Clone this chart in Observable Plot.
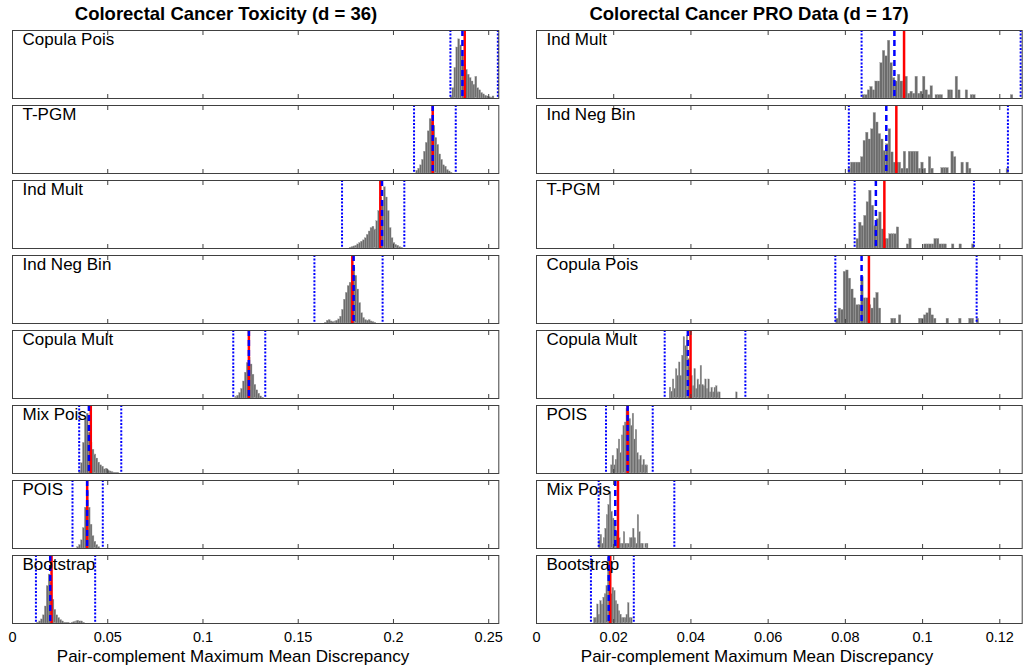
<!DOCTYPE html>
<html><head><meta charset="utf-8">
<script src="https://cdn.jsdelivr.net/npm/d3@7"></script>
<script src="https://cdn.jsdelivr.net/npm/@observablehq/plot@0.6"></script>
<style>
body{margin:0;background:#fff;font-family:"Liberation Sans",Arial,sans-serif;}
#wrap{position:relative;width:1023px;height:670px;overflow:hidden;background:#fff;}
.t{position:absolute;white-space:nowrap;transform:translateX(-50%);line-height:1;color:#000;}
.title{font-weight:bold;font-size:18.5px;top:5px;}
.xl{font-size:17px;top:648px;}
#left,#right{position:absolute;top:0;}
#left{left:0;} #right{left:524px;}
</style></head><body>
<div id="wrap">
  <div id="left"></div>
  <div id="right"></div>
  <div class="t title" style="left:226px">Colorectal Cancer Toxicity (d = 36)</div>
  <div class="t title" style="left:749px">Colorectal Cancer PRO Data (d = 17)</div>
  <div class="t xl" style="left:233px">Pair-complement Maximum Mean Discrepancy</div>
  <div class="t xl" style="left:757px">Pair-complement Maximum Mean Discrepancy</div>
</div>
<script>
// ---------- Left: Colorectal Cancer Toxicity ----------
const toxNames = ["Copula Pois","T-PGM","Ind Mult","Ind Neg Bin","Copula Mult","Mix Pois","POIS","Bootstrap"];
const toxStart = [0.230, 0.212, 0.177, 0.164, 0.117, 0.035, 0.034, 0.013];
const toxWidth = [0.001, 0.001, 0.001, 0.001, 0.001, 0.001, 0.001, 0.001];
const toxCopulaPois = [0.02,0.15,0.45,0.75,0.87,0.78,0.62,0.5,0.42,0.35,0.3,0.25,0.2,0.32,0.15,0.12,0.08,0.06,0.04,0.03,0.02,0.01,0.03];
const toxTPGM = [0.04,0.07,0.12,0.2,0.32,0.45,0.62,0.8,0.76,0.7,0.52,0.42,0.28,0.2,0.12,0.1,0.05,0.03,0.01];
const toxIndMult = [0.01,0.02,0.03,0.04,0.06,0.08,0.1,0.12,0.15,0.2,0.25,0.3,0.32,0.28,0.4,0.55,0.75,0.7,0.9,0.75,0.55,0.3,0.15,0.08,0.05,0.04,0.02,0.01];
const toxIndNegBin = [0.01,0.04,0.05,0.03,0.02,0.03,0.04,0.06,0.1,0.2,0.35,0.45,0.55,0.6,0.78,0.82,0.7,0.5,0.3,0.15,0.08,0.05,0.04,0.05,0.03,0.02,0.01];
const toxCopulaMult = [0.02,0.04,0.08,0.14,0.25,0.38,0.52,0.6,0.5,0.35,0.2,0.12,0.07,0.03,0.01];
const toxMixPois = [0.02,0.15,0.45,0.8,0.88,0.6,0.45,0.35,0.28,0.22,0.16,0.12,0.1,0.06,0.07,0.04,0.03,0.02,0.01,0.01,0.01];
const toxPOIS = [0.02,0.05,0.12,0.3,0.6,0.83,0.6,0.35,0.18,0.1,0.05,0.02];
const toxBootstrap = [0.01,0.03,0.06,0.12,0.25,0.55,0.72,0.6,0.35,0.2,0.12,0.08,0.05,0.03,0.01,0.01,0.01,0,0.01,0.02,0.03,0.04,0.03,0.03,0.01];
const toxLower    = [0.2299,0.2108,0.1730,0.1585,0.1159,0.0350,0.0315,0.0123];
const toxMedian   = [0.2362,0.2206,0.1940,0.1791,0.1241,0.0401,0.0392,0.0198];
const toxObserved = [0.2374,0.2206,0.1931,0.1784,0.1241,0.0411,0.0392,0.0205];
const toxUpper    = [0.2548,0.2327,0.2057,0.1943,0.1327,0.0571,0.0474,0.0434];
const toxTicks = [0, 0.05, 0.1, 0.15, 0.2, 0.25];
const toxMax = 0.2553;

// ---------- Right: Colorectal Cancer PRO Data ----------
const proNames = ["Ind Mult","Ind Neg Bin","T-PGM","Copula Pois","Copula Mult","POIS","Mix Pois","Bootstrap"];
const proStart = [0.0845, 0.0808, 0.0829, 0.0776, 0.0345, 0.0193, 0.0162, 0.0149];
const proWidth = [0.00065, 0.00065, 0.00065, 0.00065, 0.0004, 0.0004, 0.0004, 0.0004];
const proIndMult = [0.05,0.05,0.12,0.17,0.12,0.25,0.25,0.52,0.7,0.62,0.85,0.52,0.3,0.25,0.35,0.25,0.25,0.32,0.07,0.1,0.07,0.32,0.07,0.1,0.32,0.12,0.05,0.18,0,0.05,0.05,0.05,0,0,0.12,0.12,0,0.32,0.12,0,0,0.12,0,0.05,0.05,0,0,0,0,0,0,0,0,0,0,0,0,0,0,0.05];
const proIndNegBin = [0.07,0.16,0.16,0.16,0.16,0.24,0.48,0.6,0.5,0.65,0.89,0.75,0.58,0.5,0.33,0.43,0.65,0.31,0.16,0.16,0.16,0.07,0.32,0.07,0.32,0.32,0.32,0.32,0.07,0.16,0.07,0,0.24,0.07,0,0,0,0.08,0.08,0.08,0,0.32,0.24,0,0,0.16,0,0.16,0.07,0,0,0,0,0,0,0,0,0,0,0,0,0,0,0.07];
const proTPGM = [0.14,0.38,0.33,0.48,0.68,0.85,0.63,0.33,0.43,0.53,0.28,0.14,0.14,0.21,0.21,0.21,0.31,0,0,0,0.06,0.14,0,0,0,0,0,0.06,0.06,0.06,0.06,0.14,0.14,0.06,0.06,0.06,0,0,0.06,0,0,0.06,0,0,0,0,0.06];
const proCopulaPois = [0.07,0.22,0.2,0.76,0.78,0.66,0.5,0.37,0.27,0.27,0.68,0.37,0.37,0.27,0.22,0.37,0.45,0.22,0,0,0,0,0.07,0.07,0,0.12,0,0,0,0,0,0,0,0.07,0.07,0.12,0.15,0.22,0.12,0.07,0,0,0,0,0.07,0,0,0,0,0.07,0,0,0,0.07,0.07,0,0.07];
const proCopulaMult = [0.16,0.1,0.28,0.14,0.43,0.33,0.53,0.33,0.63,0.9,0.77,0.92,0.58,0.45,0.33,0.18,0.43,0.14,0.28,0.2,0.48,0.2,0.18,0.28,0.14,0.28,0.09,0.16,0.09,0.16,0.18,0.09,0.09,0,0,0,0,0,0,0,0,0,0,0.09];
const proPOIS = [0.12,0.26,0.12,0.2,0.36,0.5,0.3,0.56,0.7,0.75,0.95,0.9,0.8,0.7,0.88,0.5,0.64,0.3,0.2,0.26,0.12,0.2,0.12,0.12];
const proMixPois = [0.12,0.2,0.07,0.15,0.29,0.49,0.64,0.83,0.54,0.44,0.34,0.25,0.2,0.15,0.07,0.07,0.24,0.07,0.07,0.07,0.15,0.15,0.29,0.15,0.07,0.49,0.24,0.07,0.07,0,0.07,0.07];
const proBootstrap = [0.08,0.08,0.28,0.13,0.33,0.28,0.38,0.43,0.55,0.96,0.6,0.43,0.52,0.48,0.33,0.28,0.18,0.13,0.08,0.08,0.08,0.13,0.3,0.08,0.08];
const proLower    = [0.0842,0.0809,0.0824,0.0774,0.0332,0.0180,0.0161,0.0141];
const proMedian   = [0.0927,0.0906,0.0879,0.0842,0.0392,0.0236,0.0204,0.0187];
const proObserved = [0.0952,0.0932,0.0901,0.0861,0.0399,0.0236,0.0211,0.0191];
const proUpper    = [0.1254,0.1221,0.1133,0.1140,0.0541,0.0301,0.0357,0.0252];
const proTicks = [0, 0.02, 0.04, 0.06, 0.08, 0.1, 0.12];
const proMax = 0.1258;

function drawColumn(cfg) {
  const bins = cfg.names.flatMap((name, k) => cfg.counts[k].map((h, i) => ({
    panel: name, x1: cfg.starts[k] + i * cfg.widths[k], x2: cfg.starts[k] + (i + 1) * cfg.widths[k], h
  })));
  const stats = cfg.names.map((name, k) => ({
    panel: name, lower: cfg.lower[k], median: cfg.median[k], observed: cfg.observed[k], upper: cfg.upper[k]
  }));
  const axisColor = "#404040";
  return Plot.plot({
    width: cfg.width, height: 648,
    marginTop: 30, marginBottom: 25, marginLeft: cfg.marginLeft, marginRight: cfg.marginRight,
    style: {fontFamily: "'Liberation Sans', Arial, sans-serif", fontSize: "14.5px", color: "#000", background: "transparent", overflow: "visible"},
    x: {domain: [0, cfg.xmax]},
    y: {domain: [0, 1], axis: null},
    fy: {domain: cfg.names, axis: null, paddingInner: 7 / 75, paddingOuter: 0},
    marks: [
      Plot.rect(bins, {x1: "x1", x2: "x2", y1: 0, y2: "h", fy: "panel", fill: "#6c6c6c", stroke: "#a0a0a0", strokeWidth: 0.35}),
      Plot.ruleX(stats, {x: "observed", fy: "panel", stroke: "#ff0000", strokeWidth: 2.5}),
      Plot.ruleX(stats, {x: "median", fy: "panel", stroke: "#0000ff", strokeWidth: 2.5, strokeDasharray: "6,4"}),
      Plot.ruleX(stats, {x: "lower", fy: "panel", stroke: "#0000ff", strokeWidth: 2, strokeDasharray: "2,1.6"}),
      Plot.ruleX(stats, {x: "upper", fy: "panel", stroke: "#0000ff", strokeWidth: 2, strokeDasharray: "2,1.6"}),
      Plot.frame({stroke: axisColor, strokeWidth: 1}),
      Plot.axisX(cfg.ticks, {anchor: "bottom", facetAnchor: null, tickSize: -4, fill: "none", label: null, stroke: axisColor}),
      Plot.axisX(cfg.ticks, {anchor: "top", facetAnchor: null, tickSize: -4, fill: "none", label: null, stroke: axisColor}),
      Plot.axisX(cfg.ticks, {anchor: "bottom", tickSize: 0, tickPadding: 8, tickFormat: d => String(d), label: null, fill: "#000", fontSize: 14.5}),
      Plot.text(stats, {fy: "panel", text: "panel", frameAnchor: "top-left", dx: 10, dy: 2, fontSize: 17, fill: "#000"})
    ]
  });
}

document.getElementById("left").appendChild(drawColumn({
  names: toxNames, starts: toxStart, widths: toxWidth,
  counts: [toxCopulaPois, toxTPGM, toxIndMult, toxIndNegBin, toxCopulaMult, toxMixPois, toxPOIS, toxBootstrap],
  lower: toxLower, median: toxMedian, observed: toxObserved, upper: toxUpper,
  ticks: toxTicks, xmax: toxMax, width: 510, marginLeft: 12, marginRight: 11.7
}));
document.getElementById("right").appendChild(drawColumn({
  names: proNames, starts: proStart, widths: proWidth,
  counts: [proIndMult, proIndNegBin, proTPGM, proCopulaPois, proCopulaMult, proPOIS, proMixPois, proBootstrap],
  lower: proLower, median: proMedian, observed: proObserved, upper: proUpper,
  ticks: proTicks, xmax: proMax, width: 499, marginLeft: 12, marginRight: 1.3
}));
</script>
</body></html>
